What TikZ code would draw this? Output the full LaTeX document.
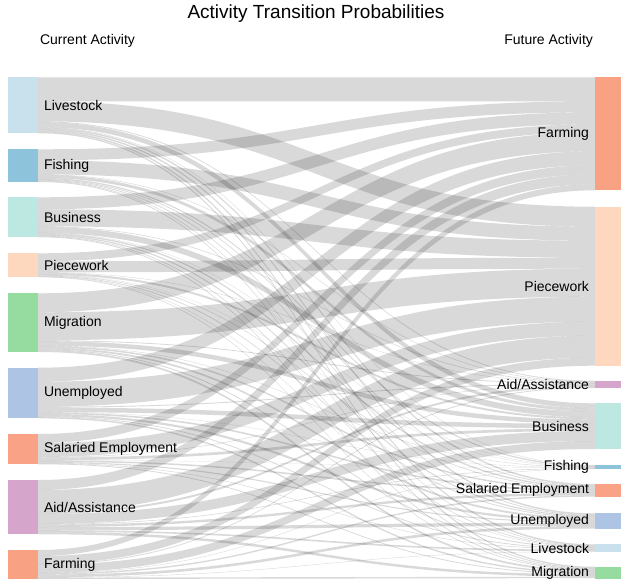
\documentclass[tikz,border=0pt]{standalone}
\usepackage{fontspec}
\setmainfont{Liberation Sans}
\usetikzlibrary{positioning}

\definecolor{cLivestock}{HTML}{C8E1ED}
\definecolor{cFishing}{HTML}{8EC3DC}
\definecolor{cBusiness}{HTML}{BDE8E1}
\definecolor{cPiecework}{HTML}{FDD8BE}
\definecolor{cMigration}{HTML}{96DB9F}
\definecolor{cUnemployed}{HTML}{AEC4E5}
\definecolor{cSalaried}{HTML}{F9A285}
\definecolor{cAid}{HTML}{D6A5CB}
\definecolor{cFarming}{HTML}{F8A183}

\tikzset{
  bar/.style={draw=none, inner sep=0pt, outer sep=0pt, minimum width=30pt, anchor=north west},
  lab/.style={inner sep=0pt, outer sep=0pt, font=\fontsize{14}{16}\selectfont},
  band/.style={fill=black, fill opacity=0.15},
}

\newcommand\linkband[4]{%
  \fill[band] (38,#1) .. controls (316.5,#1) and (316.5,#3) .. (595,#3)
    -- (595,#4) .. controls (316.5,#4) and (316.5,#2) .. (38,#2) -- cycle;}

% band widths leaving each current activity, future column order
\def\fromLivestock{24,20,0.8,5,0.4,1.5,1.5,1.5,1.3}
\def\fromFishing{11,14,0.5,3,1.2,0.8,0.8,0.6,0.8}
\def\fromBusiness{12,17,0.6,6,0.3,1.4,1.2,0.7,0.8}
\def\fromPiecework{8,11,0.4,2,0.2,0.6,0.8,0.4,0.6}
\def\fromMigration{19,28,0.8,4.5,0.4,1.5,1.8,0.9,1.8}
\def\fromUnemployed{14,25,0.9,4.5,0.3,1.6,2.2,0.8,1.4}
\def\fromSalaried{9,14,0.5,2.7,0.2,1.5,1.1,0.5,0.8}
\def\fromAid{10,22,2,10,0.6,2.4,3.2,1.6,2.5}
\def\fromFarming{6,8,0.8,8,0.4,1.4,2.6,0.4,1.4}

\begin{document}
\begin{tikzpicture}[x=1pt, y=-1pt]
    \useasboundingbox (0,0) rectangle (621,579);
    \clip (0,0) rectangle (621,579);

    \foreach \j [count=\k] in {77.3,206.7,380.7,403.3,465,484,513.3,544.3,566.7}{
        \expandafter\xdef\csname futtop\k\endcsname{\j}}

    \foreach \ctop/\row in {77.3/\fromLivestock, 149.3/\fromFishing, 197.3/\fromBusiness,
        253.3/\fromPiecework, 293.3/\fromMigration, 367.7/\fromUnemployed,
        434/\fromSalaried, 480/\fromAid, 550/\fromFarming}{
        \xdef\curtop{\ctop}
        \edef\rowlist{\row}
        \foreach \w [count=\k] in \rowlist {
            \pgfmathsetmacro\ya{\curtop}
            \pgfmathsetmacro\yb{\curtop+\w}
            \pgfmathsetmacro\yc{\csname futtop\k\endcsname}
            \pgfmathsetmacro\yd{\yc+\w}
            \linkband{\ya}{\yb}{\yc}{\yd}
            \xdef\curtop{\yb}
            \expandafter\xdef\csname futtop\k\endcsname{\yd}
        }
    }

    \node[font=\fontsize{19}{22}\selectfont] (title) at (316,14) {Activity Transition Probabilities};
    \node[lab, anchor=west] (curHead) at (40,41) {Current Activity};
    \node[lab, anchor=east] (futHead) at (593,41) {Future Activity};

    \node[bar, fill=cLivestock, minimum height=56pt] (curLivestock) at (8,77.3) {};
    \node[bar, fill=cFishing, minimum height=32.7pt] (curFishing) at (8,149.3) {};
    \node[bar, fill=cBusiness, minimum height=40pt] (curBusiness) at (8,197.3) {};
    \node[bar, fill=cPiecework, minimum height=24pt] (curPiecework) at (8,253.3) {};
    \node[bar, fill=cMigration, minimum height=58.7pt] (curMigration) at (8,293.3) {};
    \node[bar, fill=cUnemployed, minimum height=50.7pt] (curUnemployed) at (8,367.7) {};
    \node[bar, fill=cSalaried, minimum height=30.3pt] (curSalaried) at (8,434) {};
    \node[bar, fill=cAid, minimum height=54.3pt] (curAid) at (8,480) {};
    \node[bar, fill=cFarming, minimum height=29pt] (curFarming) at (8,550) {};

    \node[lab, right=6pt of curLivestock] (curLivestockLab) {Livestock};
    \node[lab, right=6pt of curFishing] (curFishingLab) {Fishing};
    \node[lab, right=6pt of curBusiness] (curBusinessLab) {Business};
    \node[lab, right=6pt of curPiecework] (curPieceworkLab) {Piecework};
    \node[lab, right=6pt of curMigration] (curMigrationLab) {Migration};
    \node[lab, right=6pt of curUnemployed] (curUnemployedLab) {Unemployed};
    \node[lab, right=6pt of curSalaried] (curSalariedLab) {Salaried Employment};
    \node[lab, right=6pt of curAid] (curAidLab) {Aid/Assistance};
    \node[lab, right=6pt of curFarming] (curFarmingLab) {Farming};

    \node[bar, fill=cFarming, minimum height=113pt] (futFarming) at (595,77.3) {};
    \node[bar, fill=cPiecework, minimum height=159pt] (futPiecework) at (595,206.7) {};
    \node[bar, fill=cAid, minimum height=7.3pt] (futAid) at (595,380.7) {};
    \node[bar, fill=cBusiness, minimum height=45.7pt] (futBusiness) at (595,403.3) {};
    \node[bar, fill=cFishing, minimum height=4pt] (futFishing) at (595,465) {};
    \node[bar, fill=cSalaried, minimum height=12.7pt] (futSalaried) at (595,484) {};
    \node[bar, fill=cUnemployed, minimum height=15.2pt] (futUnemployed) at (595,513.3) {};
    \node[bar, fill=cLivestock, minimum height=7.4pt] (futLivestock) at (595,544.3) {};
    \node[bar, fill=cMigration, minimum height=12.2pt] (futMigration) at (595,566.7) {};

    \node[lab, left=6pt of futFarming] (futFarmingLab) {Farming};
    \node[lab, left=6pt of futPiecework] (futPieceworkLab) {Piecework};
    \node[lab, left=6pt of futAid] (futAidLab) {Aid/Assistance};
    \node[lab, left=6pt of futBusiness] (futBusinessLab) {Business};
    \node[lab, left=6pt of futFishing] (futFishingLab) {Fishing};
    \node[lab, left=6pt of futSalaried] (futSalariedLab) {Salaried Employment};
    \node[lab, left=6pt of futUnemployed] (futUnemployedLab) {Unemployed};
    \node[lab, left=6pt of futLivestock] (futLivestockLab) {Livestock};
    \node[lab, left=6pt of futMigration] (futMigrationLab) {Migration};

\end{tikzpicture}
\end{document}
